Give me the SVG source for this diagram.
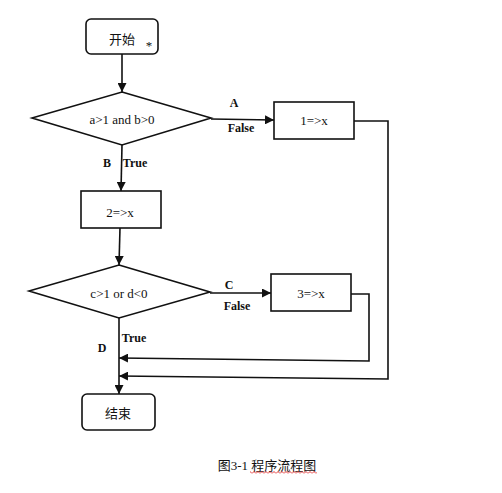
<svg xmlns="http://www.w3.org/2000/svg" width="502" height="493" viewBox="0 0 502 493">
<defs>
<marker id="ah" viewBox="0 0 10 10" refX="10" refY="5" markerWidth="9" markerHeight="9" markerUnits="userSpaceOnUse" orient="auto">
<path d="M0,0 L10,5 L0,10 Z" fill="#111"/>
</marker>
<pattern id="sq" width="4" height="3" patternUnits="userSpaceOnUse">
<path d="M0,2.5 L2,0.5 L4,2.5" fill="none" stroke="#e02020" stroke-width="0.9"/>
</pattern>
</defs>
<style>
.box{fill:#fff;stroke:#111;stroke-width:1.6}
.ln{fill:none;stroke:#111;stroke-width:1.6}
.t{font-family:"Liberation Serif","Times New Roman",serif;font-size:13px;fill:#111;text-anchor:middle;dominant-baseline:central}
.lb{font-family:"Liberation Serif","Times New Roman",serif;font-size:12px;font-weight:bold;fill:#111;text-anchor:middle;dominant-baseline:central}
.zh{font-family:"Liberation Serif","Noto Sans CJK SC",sans-serif;font-size:13px;fill:#111;text-anchor:middle;dominant-baseline:central}
</style>
<rect width="502" height="493" fill="#fff"/>

<g id="start">
<rect class="box" x="86" y="19" width="72" height="35" rx="5"/>
<text class="zh" x="122" y="39">开始</text>
<text class="t" x="149" y="45" font-size="10">*</text>
</g>

<g id="cond1">
<polygon class="box" points="122,92 211,118 122,145 32,118"/>
<text class="t" x="122" y="119">a&gt;1 and b&gt;0</text>
</g>

<g id="assign1">
<rect class="box" x="274" y="102" width="80" height="37"/>
<text class="t" x="314" y="120">1=&gt;x</text>
</g>

<g id="assign2">
<rect class="box" x="81" y="191" width="80" height="37"/>
<text class="t" x="120" y="212">2=&gt;x</text>
</g>

<g id="cond2">
<polygon class="box" points="119,265 210,292 119,318 29,291"/>
<text class="t" x="119" y="293">c&gt;1 or d&lt;0</text>
</g>

<g id="assign3">
<rect class="box" x="271" y="274" width="80" height="37"/>
<text class="t" x="311" y="293">3=&gt;x</text>
</g>

<g id="end">
<rect class="box" x="82" y="394" width="73" height="36" rx="5"/>
<text class="zh" x="118" y="413">结束</text>
</g>

<g id="connectors">
<path class="ln" d="M122,54 L122,92" marker-end="url(#ah)"/>
<path class="ln" d="M211,119 L274,120" marker-end="url(#ah)"/>
<path class="ln" d="M122,145 L121,191" marker-end="url(#ah)"/>
<path class="ln" d="M120,228 L119,265" marker-end="url(#ah)"/>
<path class="ln" d="M210,293 L271,293" marker-end="url(#ah)"/>
<path class="ln" d="M119,318 L119,394" marker-end="url(#ah)"/>
<path class="ln" d="M351,294 L369,294 L369,361 L119,358" marker-end="url(#ah)"/>
<path class="ln" d="M354,121 L388,121 L388,379 L119,376" marker-end="url(#ah)"/>
</g>

<g id="labels">
<text class="lb" x="234" y="103">A</text>
<text class="lb" x="241" y="128">False</text>
<text class="lb" x="107" y="163">B</text>
<text class="lb" x="135" y="163">True</text>
<text class="lb" x="229" y="285">C</text>
<text class="lb" x="237" y="306">False</text>
<text class="lb" x="134" y="338">True</text>
<text class="lb" x="102" y="348">D</text>
</g>

<g id="caption">
<text class="zh" x="267" y="465" font-size="14">图3-1 程序流程图</text>
<rect x="250" y="471" width="67" height="3" fill="url(#sq)"/>
</g>
</svg>
